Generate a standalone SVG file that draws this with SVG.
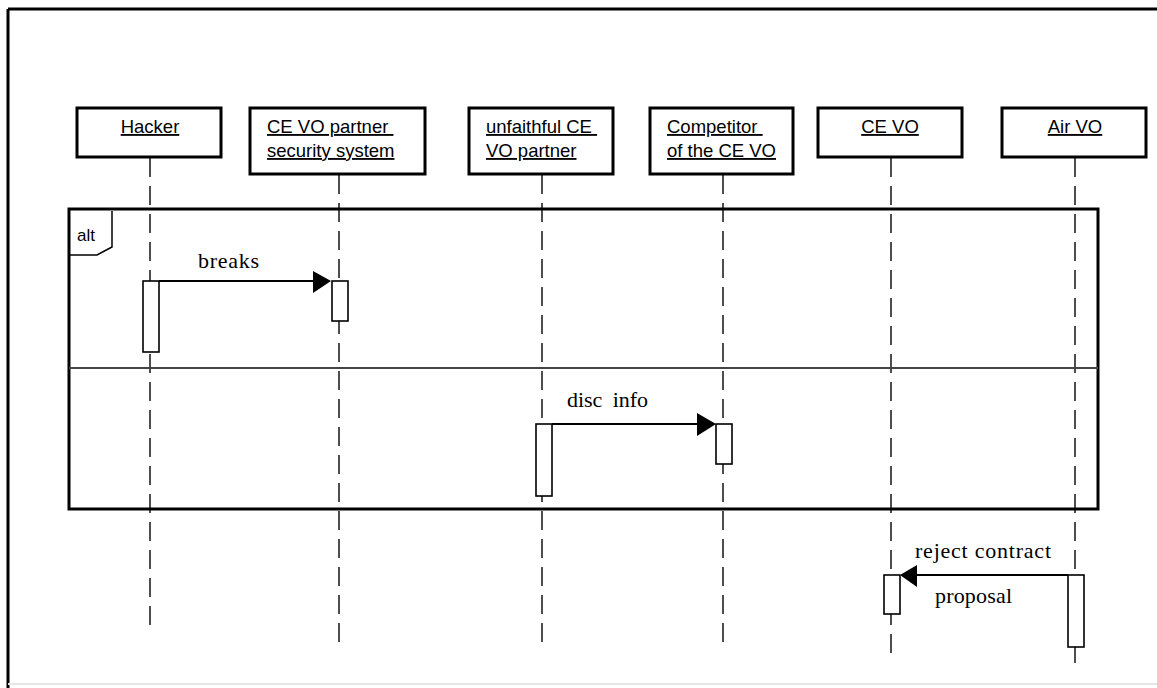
<svg xmlns="http://www.w3.org/2000/svg" width="1157" height="688" viewBox="0 0 1157 688">
<style>
.box{fill:#fff;stroke:#000;stroke-width:3}
.lbl{font-family:"Liberation Sans",Arial,sans-serif;font-size:18.5px;fill:#000;text-decoration:underline;white-space:pre}
.life{stroke:#222;stroke-width:1.6;stroke-dasharray:19 9;fill:none}
.act{fill:#fff;stroke:#000;stroke-width:1.6}
.msg{stroke:#000;stroke-width:2;fill:none}
.head{fill:#000}
.mt{font-family:"Liberation Serif","Times New Roman",serif;font-size:22px;fill:#000;white-space:pre}
</style>
<rect x="0" y="0" width="1157" height="688" fill="#fff"/>
<g id="outer-frame">
<line x1="8" y1="9" x2="1157" y2="9" stroke="#000" stroke-width="3"/>
<line x1="8" y1="9" x2="8" y2="688" stroke="#000" stroke-width="3"/>
<line x1="8" y1="684" x2="1157" y2="684" stroke="#e6e6e6" stroke-width="2"/>
</g>
<g id="lifelines">
<line class="life" x1="150" y1="158" x2="150" y2="634"/>
<line class="life" x1="339" y1="175" x2="339" y2="651"/>
<line class="life" x1="542" y1="175" x2="542" y2="650"/>
<line class="life" x1="723" y1="175" x2="723" y2="650"/>
<line class="life" x1="891" y1="158" x2="891" y2="660"/>
<line class="life" x1="1075" y1="158" x2="1075" y2="647"/>
<line x1="1075" y1="647" x2="1075" y2="663" stroke="#222" stroke-width="1.6"/>
</g>
<g id="alt-fragment">
<rect x="69" y="209" width="1029" height="300" fill="none" stroke="#000" stroke-width="3"/>
<polyline points="112,211 112,247 97,255 69,255" fill="none" stroke="#000" stroke-width="1.5"/>
<text x="77" y="241" font-family="Liberation Sans,Arial,sans-serif" font-size="17" fill="#000">alt</text>
<line x1="69" y1="368" x2="1098" y2="368" stroke="#444" stroke-width="1.8"/>
</g>
<g id="hacker">
<rect class="box" x="77" y="108" width="144" height="49"/>
<text class="lbl" x="150" y="133" text-anchor="middle">Hacker</text>
</g>
<g id="security-system">
<rect class="box" x="250" y="108" width="175" height="66"/>
<text class="lbl" x="267" y="133">CE VO partner </text>
<text class="lbl" x="267" y="157">security system</text>
</g>
<g id="unfaithful-partner">
<rect class="box" x="469" y="108" width="144" height="66"/>
<text class="lbl" x="486" y="133">unfaithful CE </text>
<text class="lbl" x="486" y="157">VO partner</text>
</g>
<g id="competitor">
<rect class="box" x="650" y="108" width="143" height="66"/>
<text class="lbl" x="667" y="133">Competitor </text>
<text class="lbl" x="667" y="157">of the CE VO</text>
</g>
<g id="ce-vo">
<rect class="box" x="818" y="108" width="144" height="49"/>
<text class="lbl" x="890" y="133" text-anchor="middle">CE VO</text>
</g>
<g id="air-vo">
<rect class="box" x="1002" y="108" width="144" height="49"/>
<text class="lbl" x="1075" y="133" text-anchor="middle">Air VO</text>
</g>
<g id="activations">
<rect class="act" x="143" y="281" width="16" height="71"/>
<rect class="act" x="332" y="281" width="16" height="40"/>
<rect class="act" x="536" y="424" width="16" height="72"/>
<rect class="act" x="716" y="424" width="16" height="40"/>
<rect class="act" x="884" y="575" width="16" height="39"/>
<rect class="act" x="1068" y="575" width="16" height="72"/>
</g>
<g id="connectors">
<line class="msg" x1="159" y1="281" x2="315" y2="281"/>
<polygon class="head" points="313,271 331,281 313,293"/>
<text class="mt" x="198" y="268" textLength="61">breaks</text>
<line class="msg" x1="552" y1="424" x2="699" y2="424"/>
<polygon class="head" points="697,413 716,424 697,436"/>
<text class="mt" x="567" y="407" textLength="81">disc  info</text>
<line class="msg" x1="1068" y1="575" x2="915" y2="575"/>
<polygon class="head" points="917,565 900,575 917,587"/>
<text class="mt" x="915" y="558" textLength="136">reject contract</text>
<text class="mt" x="935" y="603" textLength="77">proposal</text>
</g>
</svg>
